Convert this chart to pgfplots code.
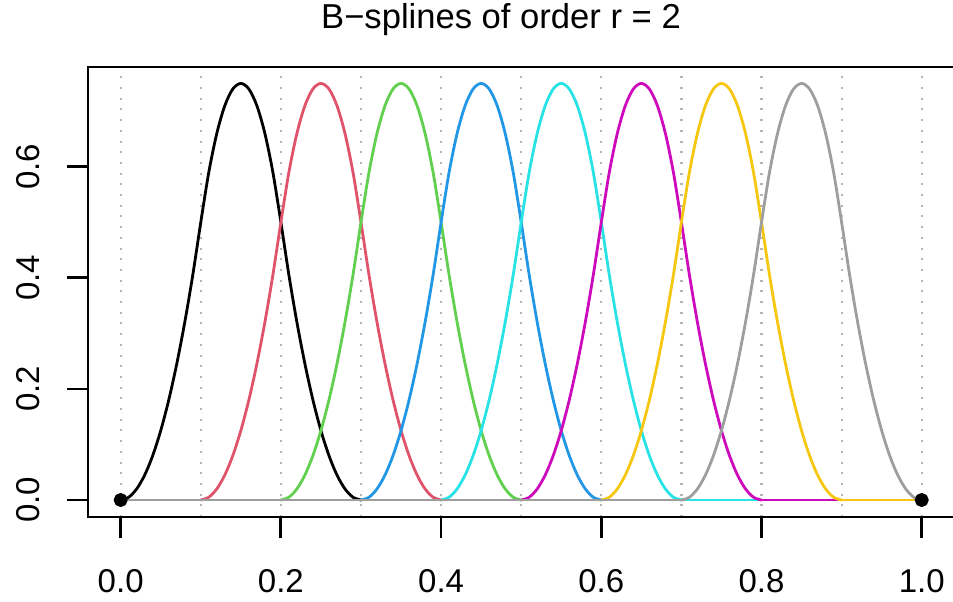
\documentclass[border=0pt]{standalone}
\usepackage{pgfplots}
\pgfplotsset{compat=1.18}
\usepackage{fontspec}
\setmainfont{Liberation Sans}
\definecolor{c1}{HTML}{000000}
\definecolor{c2}{HTML}{DF536B}
\definecolor{c3}{HTML}{61D04F}
\definecolor{c4}{HTML}{2297E6}
\definecolor{c5}{HTML}{28E2E5}
\definecolor{c6}{HTML}{CD0BBC}
\definecolor{c7}{HTML}{F5C710}
\definecolor{c8}{HTML}{9E9E9E}
\definecolor{dotgray}{RGB}{180,180,180}
\begin{document}
\begin{tikzpicture}
\path[use as bounding box] (-44pt,-42pt) rectangle (432.5pt,258.5pt);
\begin{axis}[
  at={(0,0)}, anchor=south west,
  scale only axis, width=433.2pt, height=225pt,
  xmin=-0.0408, xmax=1.0408, ymin=-0.0306, ymax=0.7795,
  axis line style={line width=1.4pt},
  every tick/.style={black, line width=1.4pt},
  tick align=outside, xtick pos=bottom, ytick pos=left,
  major tick length=10.5pt, minor tick length=0pt,
  xtick={0,0.2,0.4,0.6,0.8,1}, xticklabels={0.0,0.2,0.4,0.6,0.8,1.0},
  minor xtick={0.1,0.3,0.5,0.7,0.9},
  ytick={0,0.2,0.4,0.6}, yticklabels={0.0,0.2,0.4,0.6},
  xmajorgrids, xminorgrids,
  major grid style={dotgray, line width=1.1pt, dash pattern=on 1.0pt off 4.35pt},
  minor grid style={dotgray, line width=1.1pt, dash pattern=on 1.0pt off 4.35pt},
  tick label style={font=\fontsize{16.5}{18}\selectfont},
  xticklabel style={anchor=base, yshift=-27pt},
  yticklabel style={xshift=-14pt, rotate=90, anchor=base},
  title={B−splines of order r = 2},
  title style={font=\fontsize{17.3}{20}\selectfont, anchor=base, at={(axis description cs:0.4767,1.06)}},
  unbounded coords=jump,
  every axis plot/.append style={line width=1.4pt, line join=round, line cap=round},
]
% spline 1 (black), support [0,0.3]
\addplot[c1, smooth] coordinates {(0,0)(0.01,0.005)(0.02,0.02)(0.03,0.045)(0.04,0.08)(0.05,0.125)(0.06,0.18)(0.07,0.245)(0.08,0.32)(0.09,0.405)(0.1,0.5)(0.11,0.59)(0.12,0.66)(0.13,0.71)(0.14,0.74)(0.15,0.75)(0.16,0.74)(0.17,0.71)(0.18,0.66)(0.19,0.59)(0.2,0.5)(0.21,0.405)(0.22,0.32)(0.23,0.245)(0.24,0.18)(0.25,0.125)(0.26,0.08)(0.27,0.045)(0.28,0.02)(0.29,0.005)(0.3,0)};
\addplot[c1] coordinates {(0.3,0)(1,0)};
% spline 2 (red), support [0.1,0.4]
\addplot[c2, smooth] coordinates {(0.1,0)(0.11,0.005)(0.12,0.02)(0.13,0.045)(0.14,0.08)(0.15,0.125)(0.16,0.18)(0.17,0.245)(0.18,0.32)(0.19,0.405)(0.2,0.5)(0.21,0.59)(0.22,0.66)(0.23,0.71)(0.24,0.74)(0.25,0.75)(0.26,0.74)(0.27,0.71)(0.28,0.66)(0.29,0.59)(0.3,0.5)(0.31,0.405)(0.32,0.32)(0.33,0.245)(0.34,0.18)(0.35,0.125)(0.36,0.08)(0.37,0.045)(0.38,0.02)(0.39,0.005)(0.4,0)};
\addplot[c2] coordinates {(0,0)(0.1,0)(0.25,nan)(0.4,0)(1,0)};
% spline 3 (green), support [0.2,0.5]
\addplot[c3, smooth] coordinates {(0.2,0)(0.21,0.005)(0.22,0.02)(0.23,0.045)(0.24,0.08)(0.25,0.125)(0.26,0.18)(0.27,0.245)(0.28,0.32)(0.29,0.405)(0.3,0.5)(0.31,0.59)(0.32,0.66)(0.33,0.71)(0.34,0.74)(0.35,0.75)(0.36,0.74)(0.37,0.71)(0.38,0.66)(0.39,0.59)(0.4,0.5)(0.41,0.405)(0.42,0.32)(0.43,0.245)(0.44,0.18)(0.45,0.125)(0.46,0.08)(0.47,0.045)(0.48,0.02)(0.49,0.005)(0.5,0)};
\addplot[c3] coordinates {(0,0)(0.2,0)(0.35,nan)(0.5,0)(1,0)};
% spline 4 (blue), support [0.3,0.6]
\addplot[c4, smooth] coordinates {(0.3,0)(0.31,0.005)(0.32,0.02)(0.33,0.045)(0.34,0.08)(0.35,0.125)(0.36,0.18)(0.37,0.245)(0.38,0.32)(0.39,0.405)(0.4,0.5)(0.41,0.59)(0.42,0.66)(0.43,0.71)(0.44,0.74)(0.45,0.75)(0.46,0.74)(0.47,0.71)(0.48,0.66)(0.49,0.59)(0.5,0.5)(0.51,0.405)(0.52,0.32)(0.53,0.245)(0.54,0.18)(0.55,0.125)(0.56,0.08)(0.57,0.045)(0.58,0.02)(0.59,0.005)(0.6,0)};
\addplot[c4] coordinates {(0,0)(0.3,0)(0.45,nan)(0.6,0)(1,0)};
% spline 5 (cyan), support [0.4,0.7]
\addplot[c5, smooth] coordinates {(0.4,0)(0.41,0.005)(0.42,0.02)(0.43,0.045)(0.44,0.08)(0.45,0.125)(0.46,0.18)(0.47,0.245)(0.48,0.32)(0.49,0.405)(0.5,0.5)(0.51,0.59)(0.52,0.66)(0.53,0.71)(0.54,0.74)(0.55,0.75)(0.56,0.74)(0.57,0.71)(0.58,0.66)(0.59,0.59)(0.6,0.5)(0.61,0.405)(0.62,0.32)(0.63,0.245)(0.64,0.18)(0.65,0.125)(0.66,0.08)(0.67,0.045)(0.68,0.02)(0.69,0.005)(0.7,0)};
\addplot[c5] coordinates {(0,0)(0.4,0)(0.55,nan)(0.7,0)(1,0)};
% spline 6 (magenta), support [0.5,0.8]
\addplot[c6, smooth] coordinates {(0.5,0)(0.51,0.005)(0.52,0.02)(0.53,0.045)(0.54,0.08)(0.55,0.125)(0.56,0.18)(0.57,0.245)(0.58,0.32)(0.59,0.405)(0.6,0.5)(0.61,0.59)(0.62,0.66)(0.63,0.71)(0.64,0.74)(0.65,0.75)(0.66,0.74)(0.67,0.71)(0.68,0.66)(0.69,0.59)(0.7,0.5)(0.71,0.405)(0.72,0.32)(0.73,0.245)(0.74,0.18)(0.75,0.125)(0.76,0.08)(0.77,0.045)(0.78,0.02)(0.79,0.005)(0.8,0)};
\addplot[c6] coordinates {(0,0)(0.5,0)(0.65,nan)(0.8,0)(1,0)};
% spline 7 (yellow), support [0.6,0.9]
\addplot[c7, smooth] coordinates {(0.6,0)(0.61,0.005)(0.62,0.02)(0.63,0.045)(0.64,0.08)(0.65,0.125)(0.66,0.18)(0.67,0.245)(0.68,0.32)(0.69,0.405)(0.7,0.5)(0.71,0.59)(0.72,0.66)(0.73,0.71)(0.74,0.74)(0.75,0.75)(0.76,0.74)(0.77,0.71)(0.78,0.66)(0.79,0.59)(0.8,0.5)(0.81,0.405)(0.82,0.32)(0.83,0.245)(0.84,0.18)(0.85,0.125)(0.86,0.08)(0.87,0.045)(0.88,0.02)(0.89,0.005)(0.9,0)};
\addplot[c7] coordinates {(0,0)(0.6,0)(0.75,nan)(0.9,0)(1,0)};
% spline 8 (gray), support [0.7,1]
\addplot[c8, smooth] coordinates {(0.7,0)(0.71,0.005)(0.72,0.02)(0.73,0.045)(0.74,0.08)(0.75,0.125)(0.76,0.18)(0.77,0.245)(0.78,0.32)(0.79,0.405)(0.8,0.5)(0.81,0.59)(0.82,0.66)(0.83,0.71)(0.84,0.74)(0.85,0.75)(0.86,0.74)(0.87,0.71)(0.88,0.66)(0.89,0.59)(0.9,0.5)(0.91,0.405)(0.92,0.32)(0.93,0.245)(0.94,0.18)(0.95,0.125)(0.96,0.08)(0.97,0.045)(0.98,0.02)(0.99,0.005)(1,0)};
\addplot[c8] coordinates {(0,0)(0.7,0)};
\addplot[only marks, mark=*, mark size=2.8pt, black] coordinates {(0,0)(1,0)};
\end{axis}
\end{tikzpicture}
\end{document}
